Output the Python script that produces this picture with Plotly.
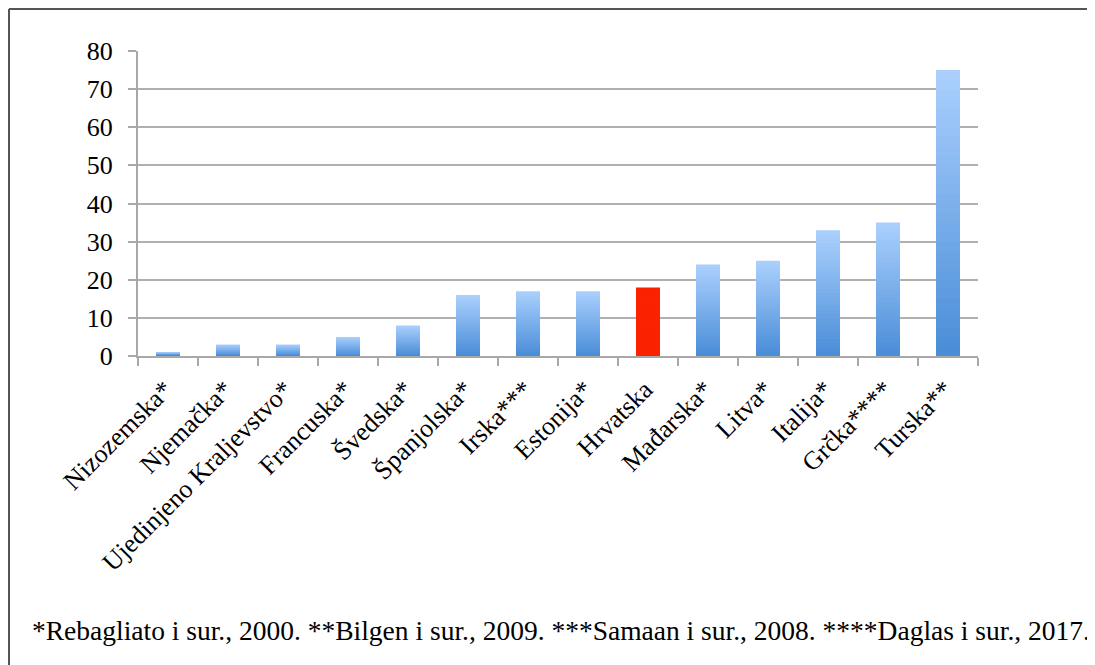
import plotly.graph_objects as go

categories = ["Nizozemska*", "Njemačka*", "Ujedinjeno Kraljevstvo*", "Francuska*",
              "Švedska*", "Španjolska*", "Irska***", "Estonija*", "Hrvatska",
              "Mađarska*", "Litva*", "Italija*", "Grčka****", "Turska**"]
values = [1, 3, 3, 5, 8, 16, 17, 17, 18, 24, 25, 33, 35, 75]
highlight = "Hrvatska"
footnote = ("*Rebagliato i sur., 2000. **Bilgen i sur., 2009. "
            "***Samaan i sur., 2008. ****Daglas i sur., 2017.")

# gradient styling: layered overlay bars (light top -> darker bottom)
top_rgb = (170, 207, 253)
bot_rgb = (74, 142, 216)
red = "#fa2200"
n_layers = 30

SERIF = "Liberation Serif, Times New Roman, Times, serif"

fig = go.Figure()
for i in range(n_layers):
    f = 1 - i / n_layers
    t = i / (n_layers - 1)
    c = tuple(round(top_rgb[k] + (bot_rgb[k] - top_rgb[k]) * t) for k in range(3))
    col = "rgb(%d,%d,%d)" % c
    fig.add_trace(go.Bar(
        x=categories,
        y=[v * f for v in values],
        marker=dict(color=[red if cat == highlight else col for cat in categories],
                    line=dict(width=0)),
        hoverinfo="skip" if i else "x+y",
        showlegend=False,
    ))

OFF = 8  # page body margin
W, H = 1087, 657
L, T = 138 - OFF, 51 - OFF
R = W - (978 - OFF)
B = H - (356 - OFF)
pw, ph = W - L - R, H - T - B

def px_x(x):
    return (x - OFF - L) / pw

def px_y(y):
    return (H - B - (y - OFF)) / ph

fig.update_layout(
    width=W, height=H,
    margin=dict(l=L, r=R, t=T, b=B),
    barmode="overlay",
    bargap=0.6,
    plot_bgcolor="white",
    paper_bgcolor="white",
    font=dict(family=SERIF, color="black", size=26),
    xaxis=dict(
        type="category",
        tickangle=-45,
        tickson="boundaries",
        ticks="outside",
        ticklen=8,
        tickwidth=2,
        tickcolor="#a8a8a8",
        showline=True,
        linecolor="#a8a8a8",
        linewidth=2,
        showgrid=False,
        ticklabelstandoff=6,
        ticklabelshift=-3,
        tickfont=dict(size=26, family=SERIF, color="black"),
    ),
    yaxis=dict(
        range=[0, 80],
        dtick=10,
        ticks="outside",
        ticklen=8,
        tickwidth=2,
        tickcolor="#a8a8a8",
        showline=True,
        linecolor="#a8a8a8",
        linewidth=2,
        showgrid=True,
        gridcolor="#b0b0b0",
        gridwidth=2,
        zeroline=False,
        ticklabelstandoff=10,
        tickfont=dict(size=26, family=SERIF, color="black"),
    ),
    annotations=[dict(
        text=footnote, xref="paper", yref="paper",
        x=px_x(30), y=px_y(630), xanchor="left", yanchor="middle",
        showarrow=False, font=dict(size=27.5, family=SERIF, color="black"),
    )],
    shapes=[
        dict(type="line", xref="paper", yref="paper",
             x0=px_x(9), x1=px_x(1200), y0=px_y(9), y1=px_y(9),
             line=dict(color="#555555", width=2)),
        dict(type="line", xref="paper", yref="paper",
             x0=px_x(9), x1=px_x(9), y0=px_y(9), y1=px_y(800),
             line=dict(color="#555555", width=2)),
    ],
)

fig.write_html("out.html")
